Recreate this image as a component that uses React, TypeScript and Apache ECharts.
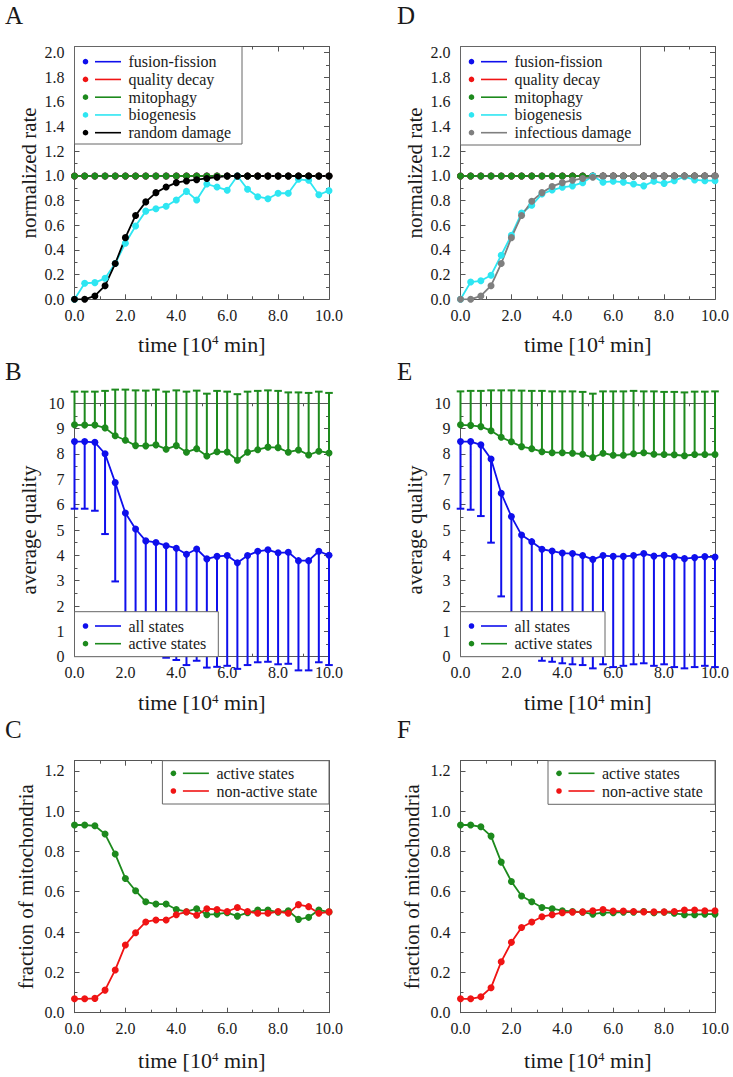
import React, { useEffect, useRef } from "react";
import * as echarts from "echarts";

// ---------- data ----------
const times = [0.0, 0.4, 0.8, 1.2, 1.6, 2.0, 2.4, 2.8, 3.2, 3.6, 4.0, 4.4, 4.8, 5.2, 5.6, 6.0, 6.4, 6.8, 7.2, 7.6, 8.0, 8.4, 8.8, 9.2, 9.6, 10.0];
const xTicks = [0.0, 2.0, 4.0, 6.0, 8.0, 10.0];

// Panel A
const aFusionFission = [1, 1, 1, 1, 1, 1, 1, 1, 1, 1, 1, 1, 1, 1, 1, 1, 1, 1, 1, 1, 1, 1, 1, 1, 1, 1];
const aQualityDecay = [1, 1, 1, 1, 1, 1, 1, 1, 1, 1, 1, 1, 1, 1, 1, 1, 1, 1, 1, 1, 1, 1, 1, 1, 1, 1];
const aMitophagy = [1, 1, 1, 1, 1, 1, 1, 1, 1, 1, 1, 1, 1, 1, 1, 1, 1, 1, 1, 1, 1, 1, 1, 1, 1, 1];
const aBiogenesis = [0, 0.13, 0.135, 0.17, 0.29, 0.455, 0.595, 0.715, 0.735, 0.755, 0.805, 0.875, 0.805, 0.935, 0.91, 0.885, 1.0, 0.892, 0.832, 0.816, 0.86, 0.86, 0.973, 0.965, 0.848, 0.881];
const aRandomDamage = [0, 0, 0.027, 0.11, 0.29, 0.5, 0.68, 0.79, 0.865, 0.91, 0.946, 0.96, 0.97, 0.98, 0.99, 1, 1, 1, 1, 1, 1, 1, 1, 1, 1, 1];

// Panel D
const dFusionFission = [1, 1, 1, 1, 1, 1, 1, 1, 1, 1, 1, 1, 1, 1, 1, 1, 1, 1, 1, 1, 1, 1, 1, 1, 1, 1];
const dQualityDecay = [1, 1, 1, 1, 1, 1, 1, 1, 1, 1, 1, 1, 1, 1, 1, 1, 1, 1, 1, 1, 1, 1, 1, 1, 1, 1];
const dMitophagy = [1, 1, 1, 1, 1, 1, 1, 1, 1, 1, 1, 1, 1, 1, 1, 1, 1, 1, 1, 1, 1, 1, 1, 1, 1, 1];
const dBiogenesis = [0, 0.14, 0.15, 0.195, 0.357, 0.52, 0.7, 0.762, 0.854, 0.886, 0.908, 0.92, 0.946, 1.0, 0.95, 0.957, 0.95, 0.935, 0.92, 0.957, 0.94, 0.962, 0.995, 0.968, 0.962, 0.962];
const dInfectiousDamage = [0, 0, 0.027, 0.11, 0.29, 0.5, 0.68, 0.795, 0.865, 0.915, 0.946, 0.965, 0.98, 0.99, 1, 1, 1, 1, 1, 1, 1, 1, 1, 1, 1, 1];

// Panel B
const bAllStates = [8.49, 8.49, 8.46, 8.01, 6.87, 5.67, 5.04, 4.57, 4.51, 4.38, 4.28, 4.04, 4.25, 3.86, 3.96, 3.99, 3.71, 3.99, 4.16, 4.22, 4.1, 4.12, 3.79, 3.79, 4.16, 4.0];
const bAllStatesLow = [5.84, 5.84, 5.76, 4.84, 2.97, 1.2, 0.6, 0.3, 0.15, -0.04, -0.13, -0.33, -0.16, -0.43, -0.4, -0.36, -0.48, -0.33, -0.22, -0.2, -0.3, -0.28, -0.54, -0.54, -0.22, -0.33];
const bActiveStates = [9.15, 9.14, 9.14, 9.03, 8.72, 8.54, 8.33, 8.32, 8.36, 8.19, 8.33, 8.07, 8.21, 7.92, 8.09, 8.08, 7.75, 8.07, 8.17, 8.27, 8.25, 8.07, 8.16, 7.96, 8.11, 8.04];
const bActiveStatesHigh = [10.46, 10.46, 10.46, 10.49, 10.54, 10.54, 10.51, 10.5, 10.54, 10.46, 10.51, 10.46, 10.5, 10.38, 10.49, 10.46, 10.36, 10.46, 10.49, 10.51, 10.49, 10.43, 10.43, 10.41, 10.46, 10.41];

// Panel E
const eAllStates = [8.49, 8.49, 8.36, 7.8, 6.45, 5.53, 4.8, 4.54, 4.24, 4.17, 4.09, 4.07, 3.99, 3.84, 3.99, 3.96, 3.96, 3.99, 4.07, 3.97, 4.0, 3.95, 3.87, 3.91, 3.95, 3.93];
const eAllStatesLow = [5.84, 5.8, 5.55, 4.5, 2.38, 1.0, 0.4, 0.1, -0.16, -0.2, -0.26, -0.3, -0.33, -0.46, -0.3, -0.41, -0.36, -0.3, -0.26, -0.36, -0.3, -0.41, -0.46, -0.41, -0.36, -0.41];
const eActiveStates = [9.15, 9.13, 9.08, 8.92, 8.66, 8.48, 8.29, 8.21, 8.09, 8.05, 8.05, 8.03, 7.99, 7.86, 8.03, 7.95, 7.95, 8.01, 8.05, 7.99, 7.98, 7.97, 7.93, 7.98, 7.98, 7.98];
const eActiveStatesHigh = [10.47, 10.49, 10.49, 10.51, 10.51, 10.51, 10.5, 10.49, 10.49, 10.47, 10.47, 10.47, 10.45, 10.38, 10.47, 10.47, 10.47, 10.49, 10.47, 10.47, 10.45, 10.45, 10.43, 10.46, 10.46, 10.47];

// Panel C
const cActive = [0.931, 0.931, 0.927, 0.886, 0.787, 0.666, 0.605, 0.55, 0.539, 0.539, 0.512, 0.501, 0.516, 0.486, 0.489, 0.496, 0.479, 0.496, 0.509, 0.509, 0.499, 0.506, 0.463, 0.473, 0.509, 0.5];
const cNonActive = [0.069, 0.069, 0.071, 0.112, 0.212, 0.336, 0.397, 0.45, 0.46, 0.46, 0.486, 0.5, 0.483, 0.516, 0.512, 0.502, 0.522, 0.502, 0.493, 0.493, 0.502, 0.493, 0.536, 0.526, 0.493, 0.5];

// Panel F
const fActive = [0.931, 0.931, 0.922, 0.876, 0.747, 0.651, 0.579, 0.55, 0.522, 0.516, 0.506, 0.502, 0.499, 0.489, 0.496, 0.496, 0.499, 0.499, 0.502, 0.496, 0.499, 0.493, 0.486, 0.486, 0.489, 0.489];
const fNonActive = [0.069, 0.069, 0.079, 0.124, 0.253, 0.349, 0.423, 0.45, 0.476, 0.486, 0.496, 0.499, 0.5, 0.506, 0.512, 0.504, 0.504, 0.502, 0.5, 0.5, 0.5, 0.502, 0.509, 0.509, 0.506, 0.506];

const panelLetters = ["A", "B", "C", "D", "E", "F"];
const yTitles = ["normalized rate", "average quality", "fraction of mitochondria"];
const xTitle = "time [10{sup|4} min]";
const rateLegendA = ["fusion-fission", "quality decay", "mitophagy", "biogenesis", "random damage"];
const rateLegendD = ["fusion-fission", "quality decay", "mitophagy", "biogenesis", "infectious damage"];
const qualityLegend = ["all states", "active states"];
const fractionLegend = ["active states", "non-active state"];

// ---------- styles ----------
const FONT = "Liberation Serif";
const TXT = "#1a1a1a";
const FRAME = "#555555";
const BLUE = "#0f0fec";
const RED = "#f01414";
const GREEN = "#1d8a1d";
const CYAN = "#2ee6f2";
const BLACK = "#000000";
const GRAY = "#7f7f7f";

const colLeft = [74.5, 460.5];
const plotW = 254.5;
const rowTop = [46.5, 403.3, 760.7];
const rowH = [252.8, 253.4, 252];

type YSpec = { max: number; interval: number; dec: number; nameGap: number };
const ySpecs: YSpec[] = [
  { max: 2.05, interval: 0.2, dec: 1, nameGap: 35 },
  { max: 10, interval: 1, dec: 0, nameGap: 35 },
  { max: 1.25, interval: 0.2, dec: 1, nameGap: 38 },
];
const xNameGaps = [34, 35, 37];

function buildOption() {
  const grids: any[] = [];
  const xAxes: any[] = [];
  const yAxes: any[] = [];
  const series: any[] = [];
  const graphics: any[] = [];

  for (let p = 0; p < 6; p++) {
    const col = Math.floor(p / 3);
    const row = p % 3;
    grids.push({ left: colLeft[col], top: rowTop[row], width: plotW, height: rowH[row], show: false, containLabel: false });
    const ys = ySpecs[row];
    const tickCommon = { show: true, inside: true, length: 5, lineStyle: { color: FRAME, width: 1 } };
    const minorCommon = { show: true, splitNumber: 2, length: 3, lineStyle: { color: FRAME, width: 1 } };
    const lineCommon = { show: true, onZero: false, lineStyle: { color: FRAME, width: 1 } };
    xAxes.push({
      type: "value", gridIndex: p, min: 0, max: 10, interval: 2, position: "bottom",
      axisLine: lineCommon, axisTick: tickCommon, minorTick: minorCommon,
      splitLine: { show: false },
      axisLabel: { formatter: (v: number) => (xTicks.includes(v) ? v.toFixed(1) : ""), fontFamily: FONT, fontSize: 16, color: TXT, margin: 8 },
      name: xTitle, nameLocation: "middle", nameGap: xNameGaps[row],
      nameTextStyle: { fontFamily: FONT, fontSize: 22, color: TXT, rich: { sup: { fontFamily: FONT, fontSize: 13, color: TXT, verticalAlign: "top", lineHeight: 22 } } },
    });
    xAxes.push({
      type: "value", gridIndex: p, min: 0, max: 10, interval: 2, position: "top",
      axisLine: lineCommon, axisTick: tickCommon, minorTick: minorCommon,
      splitLine: { show: false }, axisLabel: { show: false },
    });
    yAxes.push({
      type: "value", gridIndex: p, min: 0, max: ys.max, interval: ys.interval, position: "left",
      axisLine: lineCommon, axisTick: tickCommon, minorTick: minorCommon,
      splitLine: { show: false },
      axisLabel: { showMaxLabel: ys.max === 10, formatter: (v: number) => v.toFixed(ys.dec), fontFamily: FONT, fontSize: 16, color: TXT, margin: 10 },
      name: yTitles[row], nameLocation: "middle", nameGap: ys.nameGap,
      nameTextStyle: { fontFamily: FONT, fontSize: 21, color: TXT },
    });
    yAxes.push({
      type: "value", gridIndex: p, min: 0, max: ys.max, interval: ys.interval, position: "right",
      axisLine: lineCommon, axisTick: tickCommon, minorTick: minorCommon,
      splitLine: { show: false }, axisLabel: { show: false },
    });

    graphics.push({
      type: "text", x: col === 0 ? 5 : 397, y: rowTop[row] - 31.5,
      style: { text: panelLetters[p], fontFamily: FONT, fontSize: 25, fill: TXT, textVerticalAlign: "middle" },
      z: 100,
    });
  }

  const lineS = (p: number, name: string, vals: number[], color: string) => ({
    type: "line", name, xAxisIndex: 2 * p, yAxisIndex: 2 * p,
    data: times.map((t, i) => [t, vals[i]]),
    symbol: "circle", symbolSize: 7, showSymbol: true,
    lineStyle: { color, width: 1.8 }, itemStyle: { color },
    silent: true, animation: false,
  });
  const errS = (p: number, name: string, vals: number[], ends: number[], color: string) => ({
    type: "custom", name, xAxisIndex: 2 * p, yAxisIndex: 2 * p, clip: false, silent: true,
    data: times.map((t, i) => [t, vals[i], ends[i]]),
    encode: { x: 0, y: 1 },
    renderItem: (_params: any, api: any) => {
      const x = api.value(0);
      const a = api.coord([x, api.value(1)]);
      const b = api.coord([x, api.value(2)]);
      return {
        type: "group",
        children: [
          { type: "line", shape: { x1: a[0], y1: a[1], x2: b[0], y2: b[1] }, style: { stroke: color, lineWidth: 2 } },
          { type: "line", shape: { x1: b[0] - 3.8, y1: b[1], x2: b[0] + 3.8, y2: b[1] }, style: { stroke: color, lineWidth: 2 } },
        ],
      };
    },
  });

  series.push(lineS(0, rateLegendA[0], aFusionFission, BLUE));
  series.push(lineS(0, rateLegendA[1], aQualityDecay, RED));
  series.push(lineS(0, rateLegendA[2], aMitophagy, GREEN));
  series.push(lineS(0, rateLegendA[3], aBiogenesis, CYAN));
  series.push(lineS(0, rateLegendA[4], aRandomDamage, BLACK));
  series.push(errS(1, "active err B", bActiveStates, bActiveStatesHigh, GREEN));
  series.push(errS(1, "all err B", bAllStates, bAllStatesLow, BLUE));
  series.push(lineS(1, qualityLegend[0], bAllStates, BLUE));
  series.push(lineS(1, qualityLegend[1], bActiveStates, GREEN));
  series.push(lineS(2, fractionLegend[0], cActive, GREEN));
  series.push(lineS(2, fractionLegend[1], cNonActive, RED));
  series.push(lineS(3, rateLegendD[0], dFusionFission, BLUE));
  series.push(lineS(3, rateLegendD[1], dQualityDecay, RED));
  series.push(lineS(3, rateLegendD[2], dMitophagy, GREEN));
  series.push(lineS(3, rateLegendD[3], dBiogenesis, CYAN));
  series.push(lineS(3, rateLegendD[4], dInfectiousDamage, GRAY));
  series.push(errS(4, "active err E", eActiveStates, eActiveStatesHigh, GREEN));
  series.push(errS(4, "all err E", eAllStates, eAllStatesLow, BLUE));
  series.push(lineS(4, qualityLegend[0], eAllStates, BLUE));
  series.push(lineS(4, qualityLegend[1], eActiveStates, GREEN));
  series.push(lineS(5, fractionLegend[0], fActive, GREEN));
  series.push(lineS(5, fractionLegend[1], fNonActive, RED));

  const legendBox = (x: number, y: number, w: number, h: number, names: string[], colors: string[], firstRow: number, rowStep: number) => {
    const els: any[] = [
      { type: "rect", z: 200, shape: { x, y, width: w, height: h }, style: { fill: "#ffffff", stroke: "#666666", lineWidth: 1 } },
    ];
    names.forEach((n, i) => {
      const cy = y + firstRow + i * rowStep;
      els.push({ type: "circle", z: 201, shape: { cx: x + 11, cy, r: 2.8 }, style: { fill: colors[i] } });
      els.push({ type: "line", z: 201, shape: { x1: x + 20.5, y1: cy, x2: x + 46.5, y2: cy }, style: { stroke: colors[i], lineWidth: 1.6 } });
      els.push({ type: "text", z: 201, x: x + 54, y: cy, style: { text: n, fontFamily: FONT, fontSize: 16, fill: TXT, textVerticalAlign: "middle" } });
    });
    return els;
  };
  const rateColorsA = [BLUE, RED, GREEN, CYAN, BLACK];
  const rateColorsD = [BLUE, RED, GREEN, CYAN, GRAY];
  const bBottom = rowTop[1] + rowH[1];
  graphics.push(...legendBox(colLeft[0], rowTop[0], 167.5, 97.5, rateLegendA, rateColorsA, 15.2, 17.75));
  graphics.push(...legendBox(colLeft[1], rowTop[0], 180, 98.5, rateLegendD, rateColorsD, 15.2, 17.75));
  graphics.push(...legendBox(colLeft[0], bBottom - 45, 143.8, 45, qualityLegend, [BLUE, GREEN], 14.3, 17.7));
  graphics.push(...legendBox(colLeft[1], bBottom - 45, 144.5, 45, qualityLegend, [BLUE, GREEN], 14.3, 17.7));
  graphics.push(...legendBox(colLeft[0] + plotW - 166.6, rowTop[2], 166.6, 43.3, fractionLegend, [GREEN, RED], 12.6, 17.7));
  graphics.push(...legendBox(colLeft[1] + plotW - 167, rowTop[2], 167, 43.6, fractionLegend, [GREEN, RED], 12.6, 17.7));

  return {
    animation: false,
    backgroundColor: "#ffffff",
    grid: grids,
    xAxis: xAxes,
    yAxis: yAxes,
    series,
    graphic: graphics,
  };
}

export default function App() {
  const ref = useRef<HTMLDivElement>(null);
  useEffect(() => {
    document.body.style.margin = "0";
    if (!ref.current) return;
    const chart = echarts.init(ref.current, undefined, { renderer: "svg" });
    chart.setOption(buildOption() as any);
    return () => chart.dispose();
  }, []);
  return <div ref={ref} style={{ position: "absolute", left: 0, top: 0, width: 733, height: 1077 }} />;
}
